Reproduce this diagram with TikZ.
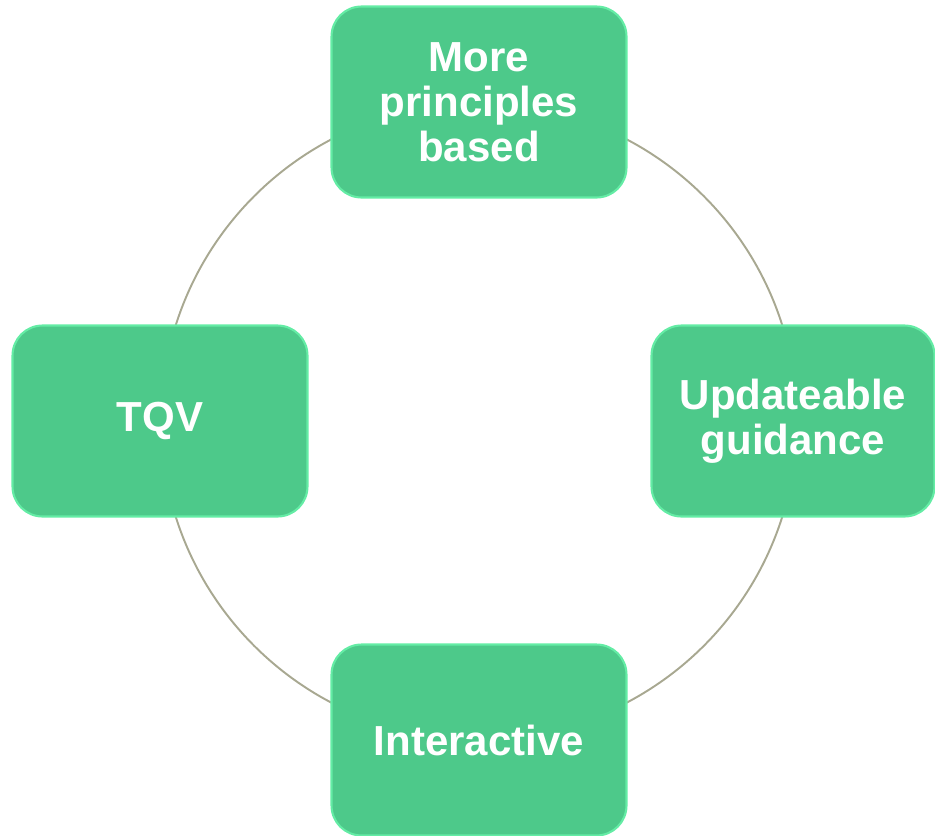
\documentclass[tikz,border=0pt]{standalone}
\usepackage{fontspec}
\setmainfont{Liberation Sans}
\usepackage{xcolor}
\usetikzlibrary{positioning}
\usetikzlibrary{calc}
\definecolor{boxgreen}{RGB}{77,201,138}
\definecolor{glowgreen}{RGB}{100,236,165}
\definecolor{ringgray}{RGB}{168,168,145}
\tikzstyle{stepbox}=[rectangle,rounded corners=0.6cm,fill=boxgreen,draw=glowgreen,line width=1.2pt,minimum height=3.82cm,align=center,text=white,font=\fontsize{23.9}{25.5}\selectfont\bfseries]
\tikzstyle{ring} = [draw,ringgray,line width=1.1pt]

\begin{document}
\begin{tikzpicture}[x=0.02cm,y=-0.02cm]

 \useasboundingbox (0,0) rectangle (935,835);

 %circle behind the boxes
 \coordinate (hub) at (479,421);
 \draw[ring] (hub) circle [radius=6.36cm];

 %boxes
   \foreach \x/\y/\w/\name/\label in {479/102/5.9/top/{More\\principles\\based}, 793/421/5.66/right/{Updateable\\guidance}, 479/740/5.9/bottom/Interactive, 160/421/5.9/left/TQV}
          \node[stepbox,minimum width=\w cm] (\name) at (\x,\y) {\label};

\end{tikzpicture}
\end{document}
